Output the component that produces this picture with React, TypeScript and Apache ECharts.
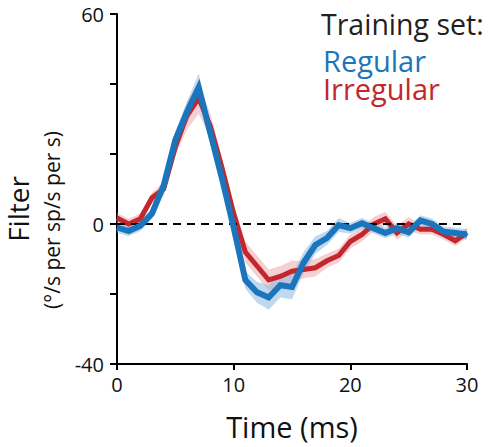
import React, { useEffect, useRef } from "react";
import * as echarts from "echarts";

const times = [0,1,2,3,4,5,6,7,8,9,10,11,12,13,14,15,16,17,18,19,20,21,22,23,24,25,26,27,28,29,30];
const regular = [-1,-2,-0.5,3,11,24,32,39,26,13,-1,-16,-19.5,-21,-17.5,-18,-11,-6,-4,-0.3,-1.2,0.2,-1.2,-2.6,-1.2,-2.4,1,0,-2.2,-2.6,-3];
const irregular = [1.7,0,1.5,7.5,10,22,31,36,28,16,3,-8,-12,-16,-15,-13.5,-13,-12.5,-10.5,-9,-5,-3,0,1.5,-2.5,0,-1.5,-1.5,-3,-4.8,-2.5];
const regularErr = [1.5,1.5,1.5,1.5,2,2.5,3,4,3,2.5,2,2.5,3,3.5,3.5,3.5,3,2.5,2,2,1.5,1.5,1.5,1.5,1.5,1.5,1.5,1.5,1.5,1.5,1.5];
const irregularErr = [1.5,1.5,1.5,1.5,2,2.5,4,4.5,3.5,3,2.5,3,3,3,3,3,2.5,2.5,2,2,2,2,2,2,2,2,1.5,1.5,1.5,1.5,1.5];
const yLabels = [60, 0, -40];

const BLUE = "#1B75BC";
const RED = "#C1272D";
const FONT = "'Open Sans', sans-serif";

function bandSeries(name: string, vals: number[], err: number[], color: string, z: number) {
  return {
    name: name + "-band",
    type: "custom",
    silent: true,
    z,
    data: [[times[0], vals[0]]],
    renderItem: (_params: any, api: any) => {
      const upper = vals.map((v, i) => api.coord([times[i], v + err[i]]));
      const lower = vals.map((v, i) => api.coord([times[i], v - err[i]])).reverse();
      return {
        type: "polygon",
        shape: { points: upper.concat(lower) },
        style: { fill: color },
      };
    },
  };
}

export default function App() {
  const ref = useRef<HTMLDivElement>(null);
  useEffect(() => {
    if (!ref.current) return;
    const chart = echarts.init(ref.current, undefined, { renderer: "svg" });
    chart.setOption({
      animation: false,
      backgroundColor: "#ffffff",
      grid: { left: 117, right: 24, top: 14, bottom: 83 },
      xAxis: {
        type: "value",
        min: 0,
        max: 30,
        interval: 10,
        axisLine: { onZero: false, lineStyle: { color: "#000", width: 2 } },
        axisTick: { length: 6, lineStyle: { color: "#000", width: 2 } },
        axisLabel: { color: "#111", fontSize: 20, fontFamily: FONT, margin: 10 },
        splitLine: { show: false },
      },
      yAxis: {
        type: "value",
        min: -40,
        max: 60,
        interval: 20,
        axisLine: { show: true, lineStyle: { color: "#000", width: 2 } },
        axisTick: { show: true, length: 7, lineStyle: { color: "#000", width: 2 } },
        axisLabel: {
          color: "#111",
          fontSize: 20,
          fontFamily: FONT,
          margin: 13,
          formatter: (v: number) => (yLabels.includes(v) ? String(v) : ""),
        },
        splitLine: { show: false },
      },
      series: [
        bandSeries("irr", irregular, irregularErr, "rgba(236,150,150,0.45)", 2),
        bandSeries("reg", regular, regularErr, "rgba(130,180,225,0.5)", 2),
        {
          name: "zero",
          type: "line",
          data: [],
          z: 3,
          markLine: {
            silent: true,
            symbol: "none",
            label: { show: false },
            lineStyle: { color: "#000", width: 2, type: [8, 6] },
            data: [{ yAxis: 0 }],
          },
        },
        {
          name: "Irregular",
          type: "line",
          data: irregular.map((v, i) => [times[i], v]),
          symbol: "none",
          lineStyle: { color: RED, width: 5, join: "miter" },
          z: 4,
        },
        {
          name: "Regular",
          type: "line",
          data: regular.map((v, i) => [times[i], v]),
          symbol: "none",
          lineStyle: { color: BLUE, width: 6, join: "miter" },
          z: 5,
        },
      ],
      graphic: [
        { type: "text", x: 321, y: 38, style: { text: "Training set:", font: `28.5px ${FONT}`, fill: "#231f20", textVerticalAlign: "bottom" } },
        { type: "text", x: 323, y: 75, style: { text: "Regular", font: `29px ${FONT}`, fill: BLUE, textVerticalAlign: "bottom" } },
        { type: "text", x: 323, y: 103, style: { text: "Irregular", font: `29px ${FONT}`, fill: RED, textVerticalAlign: "bottom" } },
        { type: "text", x: 292, y: 426, style: { text: "Time (ms)", font: `29px ${FONT}`, fill: "#111", textAlign: "center", textVerticalAlign: "middle" } },
        { type: "text", x: 18, y: 209, rotation: Math.PI / 2, style: { text: "Filter", font: `28px ${FONT}`, fill: "#111", textAlign: "center", textVerticalAlign: "middle" } },
        { type: "text", x: 52, y: 220, rotation: Math.PI / 2, style: { text: "(°/s per sp/s per s)", font: `21px ${FONT}`, fill: "#111", textAlign: "center", textVerticalAlign: "middle" } },
      ],
    });
    return () => chart.dispose();
  }, []);
  return <div ref={ref} style={{ width: 491, height: 447, position: "absolute", left: 0, top: 0 }} />;
}
